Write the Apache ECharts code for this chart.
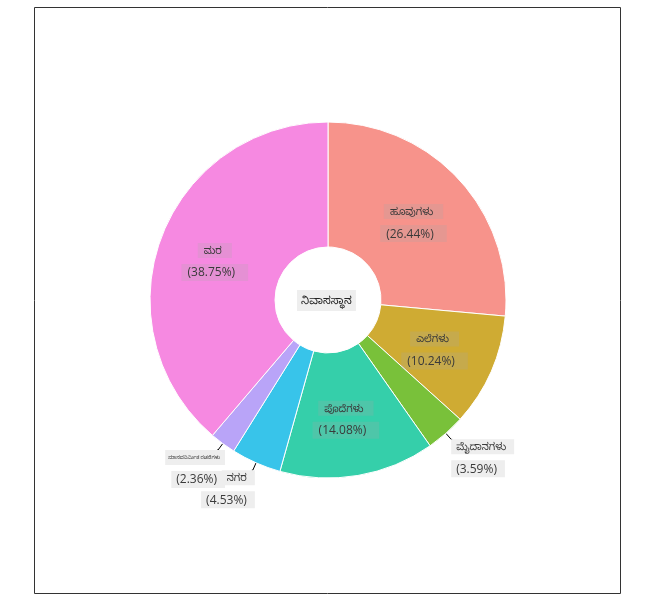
<!DOCTYPE html>
<html><head><meta charset="utf-8">
<script src="https://cdn.jsdelivr.net/npm/echarts@6/dist/echarts.min.js"></script>
<style>html,body{margin:0;padding:0;background:#fff}#c{width:653px;height:605px}</style>
</head><body><div id="c"></div>
<script>
const categories = ["ಹೂವುಗಳು","ಎಲೆಗಳು","ಮೈದಾನಗಳು","ಪೊದೆಗಳು","ನಗರ","ಮಾನವನಿರ್ಮಿತ ರಚನೆಗಳು","ಮರ"];
const values = [26.44,10.24,3.59,14.08,4.53,2.36,38.75];
const colors = ["#f7938b","#cfab33","#79c13a","#35cfaa","#38c4ea","#b9a4f8","#f689e1"];
const centerTitle = "ನಿವಾಸಸ್ಥಾನ";

const FONT = "'Open Sans', 'Noto Sans', 'Noto Sans Kannada', 'DejaVu Sans', sans-serif";
const chart = echarts.init(document.getElementById('c'));
const insideRich = {
  n:{fontSize:10,color:'#3a3a3a',backgroundColor:'rgba(170,170,170,0.22)',padding:[3,10,2,6],fontFamily:FONT},
  p:{fontSize:12,color:'#3a3a3a',backgroundColor:'rgba(170,170,170,0.22)',padding:[3,13,2,6],fontFamily:FONT},
  g:{fontSize:4,lineHeight:6}
};
const outsideRich = {
  n:{fontSize:10,color:'#3a3a3a',backgroundColor:'#eeeeee',padding:[3,8,2,5],fontFamily:FONT},
  p:{fontSize:12,color:'#3a3a3a',backgroundColor:'#eeeeee',padding:[3,8,2,5],fontFamily:FONT},
  g:{fontSize:4,lineHeight:6}
};
const smallRich = Object.assign({}, outsideRich, {
  n:Object.assign({}, outsideRich.n, {fontSize:5,padding:[5,5,5,3]})
});
const data = categories.map((name,i)=>{
  const small = values[i] < 5;
  return {
    name, value: values[i],
    itemStyle:{color:colors[i]},
    label: small ? {
      position:'outside', rich: values[i] < 3 ? smallRich : outsideRich
    } : {position:'inside', rich: insideRich},
    labelLine: small ? {show:true, length:8, length2:1, lineStyle:{color:'#000',width:1}} : {show:false}
  };
});
chart.setOption({
  animation:false,
  backgroundColor:'#fff',
  title:{text:centerTitle,left:'center',top:290,
    textStyle:{fontSize:11,fontWeight:'normal',color:'#222',fontFamily:FONT},
    backgroundColor:'#eeeeee',padding:[5,4,5,4]},
  graphic:[{type:'rect',shape:{x:34.5,y:7.5,width:586,height:586},
    style:{fill:'none',stroke:'#333',lineWidth:1},z:-1}],
  series:[{
    type:'pie',
    center:[328,300],
    radius:[53,178],
    startAngle:90,
    clockwise:true,
    avoidLabelOverlap:false,
    minShowLabelAngle:0,
    itemStyle:{borderColor:'#fff',borderWidth:1},
    label:{formatter:(p)=>'{n|'+p.name+'}\n{g|}\n{p|('+values[p.dataIndex].toFixed(2)+'%)}'},
    labelLayout:(p)=> {
      if (values[p.dataIndex] >= 5) return {dx:-2, dy:3};
      return {verticalAlign:'top', hideOverlap:false,
              dx: p.align === 'left' ? -6 : (values[p.dataIndex] < 3 ? 13 : 8)};
    },
    emphasis:{disabled:true},
    data
  }]
});
</script></body></html>
